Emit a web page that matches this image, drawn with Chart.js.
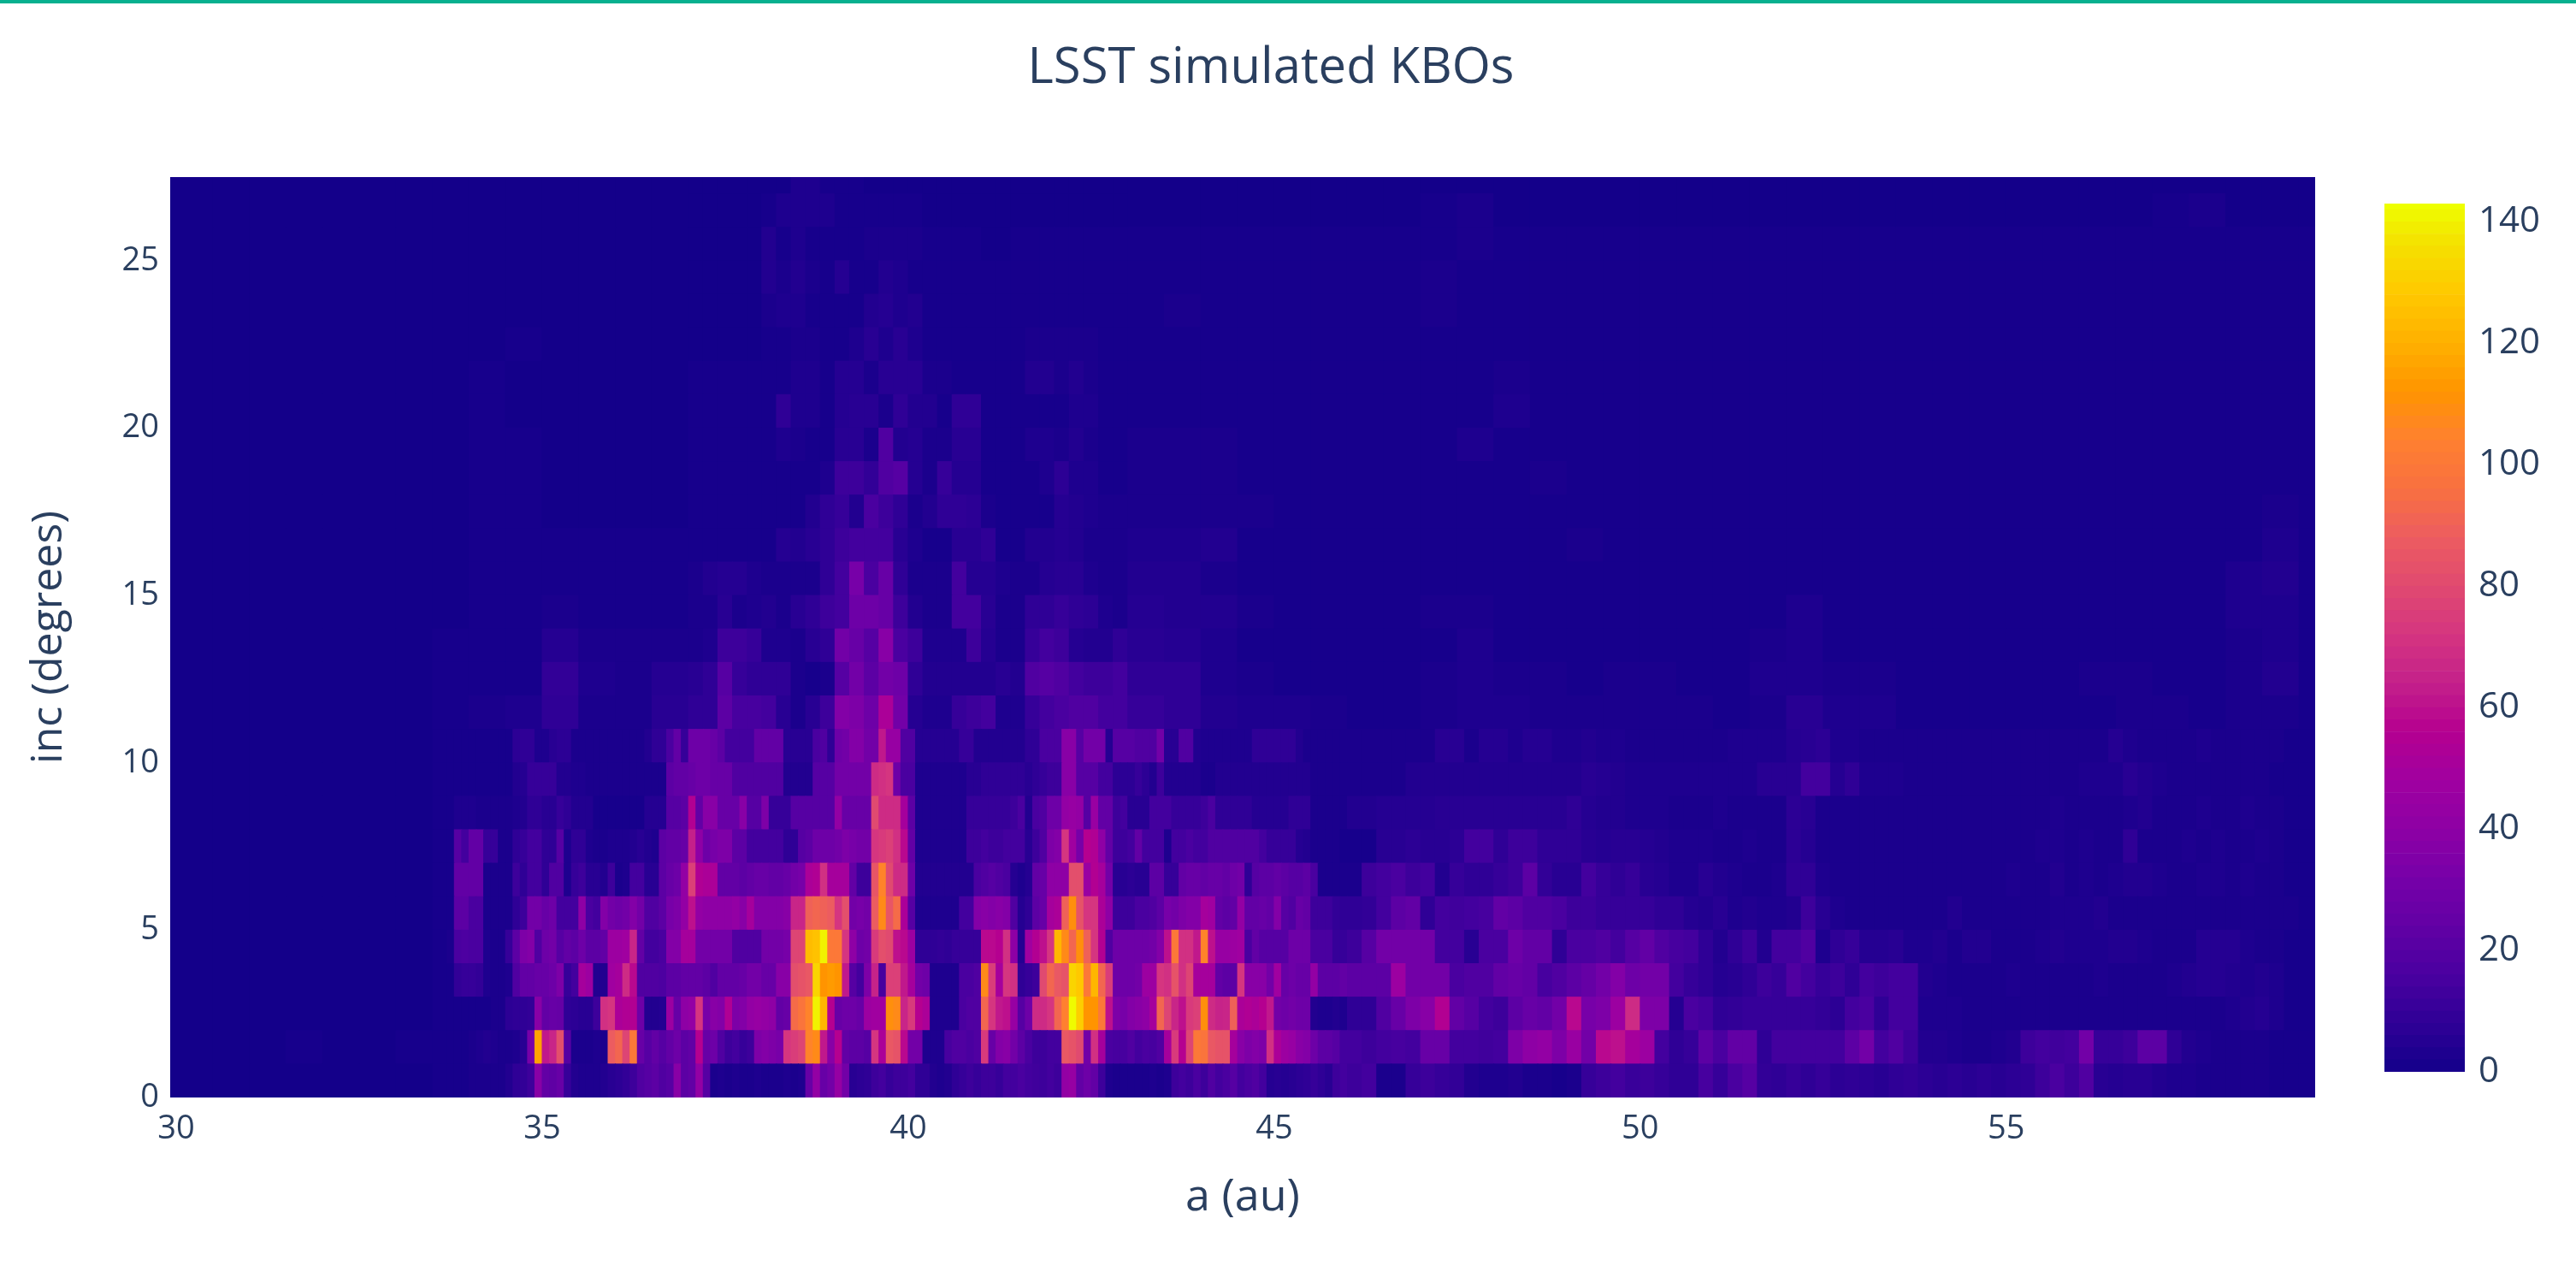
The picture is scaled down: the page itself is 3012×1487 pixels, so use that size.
<!DOCTYPE html>
<html><head><meta charset="utf-8">
<style>
html,body{margin:0;padding:0;background:#fff;width:3012px;height:1487px;overflow:hidden}
#bar{position:absolute;left:0;top:0;width:3012px;height:4px;background:#07b08f}
#main{position:absolute;left:0;top:0}
#cb{position:absolute;left:2788px;top:0}
</style>
<script src="https://cdn.jsdelivr.net/npm/chart.js@4"></script>
</head><body>
<div id="bar"></div>
<canvas id="main" width="2972" height="1487"></canvas>
<canvas id="cb" width="224" height="1487"></canvas>
<script>
const titleText = "LSST simulated KBOs";
const xTitle = "a (au)";
const yTitle = "inc (degrees)";
const xRange = [29.918, 59.22];
const yRange = [0, 27.5];
const zRange = [0, 143];
const inkColor = "#2a3f5f";
const colorStops = [[0,20,0,138],[8,47,0,150],[16,74,0,160],[24,98,0,165],[32,119,0,168],[40,142,0,165],[48,160,0,160],[56,181,0,144],[64,196,32,138],[72,213,53,128],[80,224,74,112],[88,236,92,96],[96,248,112,64],[104,255,128,48],[112,255,148,0],[120,255,176,0],[128,255,200,0],[136,245,224,0],[143,238,255,0]];

/* bin edges in au: rows 0-10 use the fine set, rows 11-27 the coarse set */
const fineStarts = [29.9,30.5,31,31.5,32,32.5,33,33.5,33.6,33.7,33.8,33.9,
34,34.1,34.2,34.3,34.4,34.5,34.6,34.7,34.8,34.9,35,35.1,35.2,35.3,35.4,35.5,35.6,35.7,35.8,35.9,
36,36.1,36.2,36.3,36.4,36.5,36.6,36.7,36.8,36.9,37,37.1,37.2,37.3,37.4,37.5,37.6,37.7,37.8,37.9,
38,38.1,38.2,38.3,38.4,38.5,38.6,38.7,38.8,38.9,39,39.1,39.2,39.3,39.4,39.5,39.6,39.7,39.8,39.9,
40,40.1,40.2,40.3,40.4,40.5,40.6,40.7,40.8,40.9,41,41.1,41.2,41.3,41.4,41.5,41.6,41.7,41.8,41.9,
42,42.1,42.2,42.3,42.4,42.5,42.6,42.7,42.8,42.9,43,43.1,43.2,43.3,43.4,43.5,43.6,43.7,43.8,43.9,
44,44.1,44.2,44.3,44.4,44.5,44.6,44.7,44.8,44.9,45,45.1,45.2,45.3,45.4,45.5,45.6,45.7,45.8,45.9,
46,46.2,46.4,46.6,46.8,47,47.2,47.4,47.6,47.8,48,48.2,48.4,48.6,48.8,49,49.2,49.4,49.6,49.8,
50,50.2,50.4,50.6,50.8,51,51.2,51.4,51.6,51.8,52,52.2,52.4,52.6,52.8,53,53.2,53.4,53.6,53.8,
54,54.2,54.4,54.6,54.8,55,55.2,55.4,55.6,55.8,56,56.2,56.4,56.6,56.8,57,57.2,57.4,57.6,57.8,
58,58.2,58.4,58.6,58.8,59,59.2,59.4];
const coarseStarts = [29.9,30.5,31,31.5,32,32.5,33,33.5,34,34.5,35,35.5,36,36.5,
37,37.2,37.4,37.6,37.8,38,38.2,38.4,38.6,38.8,39,39.2,39.4,39.6,39.8,
40,40.2,40.4,40.6,40.8,41,41.2,41.4,41.6,41.8,42,42.2,42.4,42.6,42.8,
43,43.5,44,44.5,45,45.5,46,46.5,47,47.5,48,48.5,49,49.5,50,50.5,51,51.5,52,52.5,53,53.5,54,54.5,55,55.5,56,56.5,57,57.5,58,58.5,59,59.5];

const inc00 = [0,0,0,0,0,0,0, 1,1,1,1,1,
2,2,2,2,2,4,8,9,12,38, 24,23,26,10,4,3,3,3,4,6, 7,9,12,18,20,22,18,20,38,22, 24,42,20,2,3,2,3,2,2,3, 2,2,2,3,2,3,26,42,26,30, 43,30,6,7,8,12,14,10,12,12,
14,8,8,4,3,4,8,10,12,10, 12,12,10,14,14,16,14,13,12,14, 12,42,44,24,28,24,12,3,2,2, 2,2,2,3,2,3,12,14,12,16, 12,18,14,16,20,14,16,18,14,5, 6,5,6,7,8,10,8,6,12,14,
12,14,2,2,10, 12,10,9,4,3, 3,4,2,2,1, 2,10,12,14,11, 12,10,8,8,15, 10,16,20,9,8, 10,8,10,7,8, 7,6,8,9,7, 6,7,6,7,6, 7,8,12,16,12, 18,6,5,6,6, 4,3,3,2,2, 2,2,2,1,1, 1,1];
const inc01 = [0,0,0,1,0,0,1, 1,1,1,1,1,
2,3,4,3,2,2,3,6,32,116, 62,66,82,20,2,2,2,3,2,88, 92,78,100,26,20,24,20,24,28,22, 24,56,26,28,18,12,14,10,12,34, 36,34,32,72,75,78,105,108,62,38, 56,24,22,22,20,72,52,86,84,58,
30,30,3,3,3,15,18,18,16,18, 74,26,36,38,30,22,16,12,12,14, 14,86,84,80,30,70,50,16,15,15, 18,14,16,15,18,50,74,56,78,100, 98,86,84,84,50,38,34,36,34,70, 52,46,44,38,36,28,22,22,20,14,
14,12,14,15,14, 26,26,14,14,13, 14,34,40,42,34, 45,30,58,60,50, 46,14,8,10,22, 16,24,24,8,14, 14,14,14,14,22, 30,14,18,12,4, 4,3,2,2,3, 4,12,14,13,14, 30,10,10,12,22, 22,8,4,3,2, 2,2,2,1,1, 1,1];
const inc02 = [0,0,0,0,0,0,0, 1,1,1,1,1,
1,1,1,2,2,7,8,8,9,38, 24,26,25,8,7,6,6,12,70,72, 52,54,55,28,4,4,5,46,26,40, 42,72,32,38,36,54,34,36,42,44, 42,40,24,26,94,98,105,140,122,56, 26,28,28,26,46,48,48,110,108,66,
74,56,52,3,3,3,3,16,18,18, 92,72,62,60,44,20,28,68,68,72, 92,104,142,130,112,112,100,60,34,32, 36,38,40,50,92,78,66,60,74,76, 110,68,65,66,90,52,54,52,56,62, 30,28,30,28,28,4,3,3,4,3,
8,8,18,26,34, 38,55,24,20,14, 12,22,26,24,30, 58,32,34,46,68, 34,34,5,16,14, 8,9,10,10,10, 10,10,9,7,14, 16,8,14,14,3, 3,3,2,2,2, 2,2,2,2,2, 2,2,2,2,2, 2,2,2,2,2, 3,4,5,3,1, 1,1];
const inc03 = [0,0,0,0,0,0,0, 1,1,1,9,10,
10,9,3,2,2,3,18,24,24,26, 26,28,34,10,14,50,46,4,4,48, 50,68,58,18,18,18,17,22,22,24, 24,24,22,18,24,24,24,26,30,30, 26,26,38,38,82,84,86,132,112,114, 112,62,20,14,34,65,15,76,76,62,
50,30,28,3,3,3,3,16,16,18, 108,75,50,72,70,8,10,12,80,92, 86,84,132,128,100,122,92,75,28,28, 28,30,46,46,72,70,84,70,78,50, 50,50,24,22,22,72,38,38,38,30, 48,26,28,26,26,42,22,22,22,24,
22,22,22,46,30, 30,30,16,18,18, 24,26,24,15,18, 22,25,30,36,28, 30,30,14,10,8, 5,6,8,12,10, 18,14,10,12,8, 14,12,14,14,4, 3,2,2,2,2, 3,2,2,2,2, 2,3,2,2,2, 2,3,4,5,5, 4,3,4,3,1, 1,1];
const inc04 = [0,0,0,0,0,0,0, 1,1,2,16,17,
16,16,3,2,2,10,22,34,36,18, 28,30,20,24,22,28,22,22,24,46, 46,48,66,24,14,14,16,36,36,50, 50,30,30,30,30,30,18,18,18,18, 30,30,30,32,78,78,124,126,140,100, 100,72,40,28,30,74,82,80,60,58,
46,8,8,8,9,8,10,10,10,10, 58,58,56,70,40,5,48,55,60,72, 122,108,92,110,90,72,55,18,28,28, 28,28,28,30,36,60,100,70,70,62, 105,60,44,44,46,48,16,24,20,20, 20,20,28,28,28,16,16,16,10,10,
12,20,30,30,30, 30,14,14,6,16, 16,28,24,24,8, 16,16,18,14,20, 24,18,15,14,8, 4,8,12,4,14, 14,18,3,8,10, 5,5,6,3,3, 4,2,4,4,2, 2,2,3,4,3, 3,3,4,4,3, 2,2,2,5,5, 5,3,2,2,1, 1,1];
const inc05 = [0,0,0,0,0,0,0, 1,1,1,22,22,
16,16,2,2,2,2,8,12,30,30, 26,28,14,14,14,40,16,14,36,30, 28,30,36,30,18,18,22,32,34,42, 60,42,40,40,40,40,42,38,50,36, 36,36,36,38,66,66,90,92,90,88, 72,82,30,32,30,88,108,85,94,52,
20,3,3,3,3,3,3,14,14,36, 38,36,38,36,18,5,8,22,26,50, 52,90,110,84,72,72,52,40,12,12, 12,16,16,18,22,32,30,34,36,36, 50,48,24,22,24,42,24,24,26,24, 36,20,18,26,24,12,12,12,9,8,
8,9,14,22,24, 8,14,13,14,15, 24,22,18,18,16, 12,12,10,10,10, 10,8,8,5,4, 6,3,4,3,3, 4,12,6,3,2, 2,2,2,2,2, 2,4,2,2,2, 2,2,2,3,3, 3,4,2,2,2, 2,2,2,2,2, 2,2,2,2,2, 1,1];
const inc06 = [0,0,0,0,0,0,0, 1,1,1,24,24,
24,24,2,2,2,2,12,8,14,14, 8,18,18,3,10,12,6,6,4,12, 2,3,14,14,6,6,22,26,28,42, 76,54,52,52,24,24,24,22,24,26, 26,24,24,26,30,32,52,54,70,50, 50,50,24,12,12,85,105,80,68,68,
28,4,4,4,4,4,4,4,4,16, 18,20,18,16,5,3,5,24,26,40, 40,40,82,82,45,55,50,30,6,6, 7,6,6,22,22,10,10,24,26,26, 24,26,26,24,28,30,8,20,22,22, 24,22,20,20,22,16,2,2,2,2,
2,12,14,16,12, 14,4,10,8,8, 10,12,22,9,6, 6,14,10,8,10, 6,5,3,3,6, 4,3,2,2,3, 8,8,3,2,2, 2,2,2,2,2, 2,2,2,2,2, 3,2,2,4,2, 3,2,3,4,4, 3,2,2,3,3, 2,3,2,2,1, 1,1];
const inc07 = [0,0,0,0,0,0,0, 1,1,1,20,14,
24,24,10,10,2,2,8,10,14,14, 8,8,20,3,8,8,3,2,2,3, 3,3,4,6,4,3,22,24,24,26, 64,40,28,32,34,34,22,22,14,14, 14,14,14,8,8,20,22,28,28,28, 30,34,32,30,30,72,74,76,70,58,
24,3,3,3,3,3,3,3,12,12, 14,12,12,14,14,14,6,12,18,34, 36,72,48,32,56,54,40,24,12,12, 14,24,14,14,14,3,14,14,16,14, 14,18,18,18,18,18,18,18,14,10, 10,10,10,5,4,2,2,2,2,1,
1,1,6,6,7, 6,6,7,14,14, 8,12,12,8,8, 8,6,5,6,6, 5,4,3,3,3, 2,2,3,2,2, 7,5,2,2,2, 2,2,2,2,2, 2,2,2,2,2, 2,2,3,3,2, 3,2,2,8,2, 2,2,3,2,3, 2,2,3,2,1, 1,1];
const inc08 = [0,0,0,0,0,0,0, 1,1,1,3,3,
3,2,2,2,2,2,3,4,8,8, 6,6,10,8,4,4,4,1,1,1, 1,1,1,1,5,5,5,20,20,22, 55,24,38,38,26,26,26,38,20,20, 34,10,10,10,20,20,20,20,20,20, 42,26,26,26,26,80,68,68,68,50,
22,3,3,3,3,3,3,3,10,10, 10,10,10,10,12,16,4,16,18,28, 28,42,44,42,20,45,24,24,12,14, 6,6,6,14,14,14,10,10,10,10, 12,16,8,8,8,8,8,5,5,5, 5,5,8,8,8,2,2,2,2,2,
4,4,5,5,5, 5,6,6,6,6, 6,6,6,6,6, 8,5,4,4,3, 3,3,2,2,2, 3,2,2,2,2, 7,6,2,2,2, 2,2,2,2,2, 2,2,2,2,2, 2,2,2,3,2, 2,2,2,3,4, 2,2,2,3,2, 2,3,2,2,1, 1,1];
const inc09 = [0,0,0,0,0,0,0, 1,1,1,1,1,
1,1,1,1,1,1,4,5,10,10, 10,10,4,4,3,3,2,2,2,2, 2,2,2,2,2,2,2,22,24,24, 26,28,28,26,26,26,18,18,18,18, 18,18,18,4,4,4,4,20,20,20, 30,30,30,30,30,68,70,72,28,16,
16,3,3,3,3,3,3,3,6,6, 8,8,8,8,8,8,6,8,10,12, 12,38,38,20,20,20,14,14,7,7, 7,10,7,4,12,4,4,4,4,4, 2,2,4,4,4,4,4,4,4,4, 4,4,4,4,4,2,2,2,2,2,
2,2,2,2,4, 4,4,4,4,4, 4,4,4,4,4, 4,6,5,4,3, 3,3,3,3,3, 3,3,3,6,6, 6,14,14,5,8, 3,3,3,2,2, 2,2,2,2,2, 2,2,2,2,2, 3,3,3,6,4, 3,2,2,2,2, 2,2,2,1,1, 1,1];
const inc10 = [0,0,0,0,0,0,0, 1,1,1,1,1,
1,1,1,1,1,1,7,8,8,3, 3,6,7,7,2,2,2,2,2,2, 2,2,2,2,4,8,8,16,24,10, 28,28,28,26,22,14,14,14,14,24, 24,24,24,6,6,6,6,16,18,8, 28,30,36,36,30,30,62,44,44,18,
18,5,5,5,5,5,5,10,10,4, 4,4,4,4,4,4,8,8,16,16, 16,38,38,20,30,30,30,5,20,20, 20,18,18,18,30,6,6,18,18,4, 3,3,3,3,3,3,3,8,8,8, 8,8,8,4,2,2,2,2,2,2,
2,2,2,2,2, 2,6,6,2,5, 5,3,5,5,3, 3,4,3,3,2, 2,2,2,2,2, 2,3,3,3,3, 5,6,7,3,3, 2,2,2,2,2, 2,2,2,2,2, 2,2,2,2,2, 2,2,5,3,2, 2,2,2,3,2, 2,2,2,2,1, 1,1];

const inc11 = [0,0,0,0,0,0,0,1,2,3,8,2,2,6, 8,8,22,15,15, 14,6,2,6,12, 36,34,28,52,30, 5,3,3,10,12, 14,3,3,10,14, 16,18,18,14,14,
10,8,4,3,3,2,1,1,2,3,3,2,2,2,2,2,1,2,6,3,3,1,1,1,1,1,1,2,2,1,2,2,1];
const inc12 = [0,0,0,0,0,0,0,1,1,1,9,3,2,5, 6,8,20,10,8, 8,8,2,1,2, 20,30,22,30,28, 8,4,4,4,4, 4,6,4,18,20, 18,14,12,12,14,
8,8,3,2,1,1,1,1,2,3,2,2,1,2,2,1,1,3,3,2,2,1,1,1,1,1,2,2,1,1,2,4,1];
const inc13 = [0,0,0,0,0,0,0,1,1,1,5,2,2,2, 2,3,12,12,10, 3,3,2,6,8, 30,26,20,38,16, 12,3,3,3,12, 5,2,2,10,14, 12,5,4,4,8,
6,5,3,1,1,1,1,1,1,3,1,1,1,1,1,1,1,2,3,1,1,1,1,1,1,1,1,1,1,1,2,3,1];
const inc14 = [0,0,0,0,0,0,0,0,1,1,2,1,1,1, 2,2,6,2,3, 4,2,6,8,12, 14,28,28,26,12, 4,2,2,14,14, 6,2,2,8,8, 10,8,7,3,2,
5,4,4,2,1,1,1,1,2,2,1,1,1,1,1,1,1,1,3,1,1,1,1,1,1,1,1,1,1,1,3,3,1];
const inc15 = [0,0,0,0,0,0,0,0,1,1,1,1,1,1, 2,4,5,5,3, 2,2,2,2,8, 14,32,16,26,8, 2,2,2,14,5, 5,3,2,2,5, 6,6,3,2,2,
4,4,2,1,1,1,1,1,1,1,1,1,1,1,1,1,1,1,1,1,1,1,1,1,1,1,1,1,1,1,3,4,1];
const inc16 = [0,0,0,0,0,0,0,0,1,1,1,1,1,1, 1,1,1,1,1, 1,5,4,6,8, 12,14,14,14,6, 3,1,1,6,6, 8,1,1,4,4, 5,4,2,2,2,
3,3,4,1,1,1,1,1,1,1,1,1,2,1,1,1,1,1,1,1,1,1,1,1,1,1,1,1,1,1,1,3,1];
const inc17 = [0,0,0,0,0,0,0,0,1,1,0,0,0,0, 1,1,1,1,1, 1,1,1,4,8, 10,4,16,12,8, 2,4,8,8,7, 2,1,1,1,1, 5,4,3,2,2,
2,2,2,2,1,1,1,1,1,1,1,1,1,1,1,1,1,1,1,1,1,1,1,1,1,1,1,1,1,1,1,2,1];
const inc18 = [0,0,0,0,0,0,0,0,1,1,0,0,0,0, 1,1,1,1,1, 1,1,1,1,3, 12,12,9,18,20, 5,2,10,5,5, 1,1,1,1,3, 7,3,3,1,1,
2,2,2,1,1,1,1,1,1,1,1,2,1,1,1,1,1,1,1,1,1,1,1,1,1,1,1,1,1,1,1,1,1];
const inc19 = [0,0,0,0,0,0,0,0,1,1,0,0,0,0, 1,1,1,1,1, 1,3,2,1,1, 6,6,2,18,4, 5,2,2,6,6, 1,1,1,3,3, 2,4,2,1,1,
2,2,2,1,1,1,1,1,1,3,1,1,1,1,1,1,1,1,1,1,1,1,1,1,1,1,1,1,1,1,1,1,1];
const inc20 = [0,0,0,0,0,0,0,0,1,0,0,0,0,0, 1,1,1,1,1, 1,8,3,3,1, 5,6,6,2,8, 4,4,1,8,8, 1,1,1,1,1, 1,3,3,1,1,
1,1,1,1,1,1,1,1,1,1,3,1,1,1,1,1,1,1,1,1,1,1,1,1,1,1,1,1,1,1,1,1,1];
const inc21 = [0,0,0,0,0,0,0,0,1,0,0,0,0,0, 1,1,1,1,1, 1,1,3,3,1, 5,5,2,6,6, 6,2,2,1,1, 1,1,1,4,4, 2,4,2,1,1,
1,1,1,1,1,1,1,1,1,1,2,1,1,1,1,1,1,1,1,1,1,1,1,1,1,1,1,1,1,1,1,1,1];
const inc22 = [0,0,0,0,0,0,0,0,0,1,0,0,0,0, 0,0,0,0,0, 1,1,2,2,1, 1,3,6,3,6, 3,1,1,1,1, 1,1,1,2,2, 2,2,2,1,1,
1,1,1,1,1,1,1,1,1,1,1,1,1,1,1,1,1,1,1,1,1,1,1,1,1,1,1,1,1,1,1,1,1];
const inc23 = [0,0,0,0,0,0,0,0,0,0,0,0,0,0, 0,0,0,0,0, 2,3,3,1,1, 1,1,4,5,3, 4,1,1,1,1, 1,1,1,1,1, 1,1,1,1,1,
1,2,1,1,1,1,1,1,2,1,1,1,1,1,1,1,1,1,1,1,1,1,1,1,1,1,1,1,1,1,1,1,1];
const inc24 = [0,0,0,0,0,0,0,0,0,0,0,0,0,0, 0,0,0,0,0, 4,2,4,2,1, 5,1,1,4,3, 1,1,1,1,1, 1,1,1,1,1, 1,1,1,1,1,
1,1,1,1,1,1,1,1,2,1,1,1,1,1,1,1,1,1,1,1,1,1,1,1,1,1,1,1,1,1,1,1,1];
const inc25 = [0,0,0,0,0,0,0,0,0,0,0,0,0,0, 0,0,0,0,0, 4,1,3,1,1, 1,1,2,2,2, 2,1,1,1,1, 0,0,1,1,1, 1,1,1,1,1,
1,1,1,1,1,1,1,1,1,2,1,1,1,1,1,1,1,1,1,1,1,1,1,1,1,1,1,1,1,1,1,1,1];
const inc26 = [0,0,0,0,0,0,0,0,0,0,0,0,0,0, 0,0,0,0,0, 1,3,3,3,3, 1,1,1,1,1, 1,0,0,0,0, 0,0,0,0,0, 0,0,0,0,0,
0,0,0,0,0,0,0,0,1,2,0,0,0,0,0,0,0,0,0,0,0,0,0,0,0,0,0,0,1,2,0,0,0];
const inc27 = [0,0,0,0,0,0,0,0,0,0,0,0,0,0, 0,0,0,0,0, 0,0,3,3,1, 1,1,0,0,0, 0,0,0,0,0, 0,0,0,0,0, 0,0,0,0,0,
0,0,0,0,0,0,0,0,0,0,0,0,0,0,0,0,0,0,0,0,0,0,0,0,0,0,0,0,0,0,0,0,0];

const fineRows = [inc00,inc01,inc02,inc03,inc04,inc05,inc06,inc07,inc08,inc09,inc10];
const coarseRows = [inc11,inc12,inc13,inc14,inc15,inc16,inc17,inc18,inc19,inc20,inc21,inc22,inc23,inc24,inc25,inc26,inc27];

function zColor(v){
  v = Math.max(zRange[0], Math.min(zRange[1], v));
  for (let i=1;i<colorStops.length;i++){
    const a=colorStops[i-1], b=colorStops[i];
    if (v<=b[0]){
      const t=(v-a[0])/(b[0]-a[0]);
      return `rgb(${Math.round(a[1]+(b[1]-a[1])*t)},${Math.round(a[2]+(b[2]-a[2])*t)},${Math.round(a[3]+(b[3]-a[3])*t)})`;
    }
  }
  return "rgb(238,255,0)";
}
function rowDataset(values, starts, rowIndex){
  const data=[];
  for (let i=0;i<starts.length-1;i++){
    data.push({x:[starts[i],starts[i+1]], y:rowIndex+0.5, z:values[i]===undefined?0:values[i]});
  }
  return {label:"inc "+rowIndex, data, borderWidth:0, inflateAmount:0.5, grouped:false, barPercentage:1, categoryPercentage:1,
          backgroundColor:c=>zColor(c.raw?c.raw.z:0)};
}
const datasets=[];
fineRows.forEach((r,i)=>datasets.push(rowDataset(r,fineStarts,i)));
coarseRows.forEach((r,i)=>datasets.push(rowDataset(r,coarseStarts,i+fineRows.length)));

const fontFamily='"Open Sans", sans-serif';
const tickFont={family:fontFamily,size:38};
const baseFill={id:'baseFill',beforeDatasetsDraw(chart){
  const a=chart.chartArea,c=chart.ctx;
  c.save();c.fillStyle=zColor(0);c.fillRect(a.left,a.top,a.right-a.left,a.bottom-a.top);c.restore();
}};
Chart.defaults.animation=false;
new Chart(document.getElementById('main'),{
  type:'bar',
  data:{datasets},
  plugins:[baseFill],
  options:{
    indexAxis:'y',responsive:false,animation:false,
    layout:{autoPadding:false,padding:0},
    plugins:{
      legend:{display:false},tooltip:{enabled:false},
      title:{display:true,text:titleText,color:inkColor,font:{family:fontFamily,size:58,weight:'normal'},padding:{top:46,bottom:91.4}}
    },
    scales:{
      x:{type:'linear',position:'bottom',min:xRange[0],max:xRange[1],
        grid:{display:false},border:{display:false},
        ticks:{stepSize:5,includeBounds:false,autoSkip:false,maxRotation:0,color:inkColor,font:tickFont,padding:6,callback:v=>String(v)},
        title:{display:true,text:xTitle,color:inkColor,font:{family:fontFamily,size:52},padding:{top:0,bottom:56}},
        afterFit(s){s.height=204;}
      },
      y:{type:'linear',position:'left',min:yRange[0],max:yRange[1],offset:false,
        grid:{display:false},border:{display:false},
        ticks:{stepSize:5,includeBounds:false,autoSkip:false,color:inkColor,font:tickFont,padding:5,callback:v=>String(v)},
        title:{display:true,text:yTitle,color:inkColor,font:{family:fontFamily,size:50},padding:{top:28,bottom:0}},
        afterFit(s){s.width=199;}
      },
      spacer:{type:'linear',position:'right',display:true,grid:{display:false},border:{display:false},ticks:{display:false},
        afterFit(s){s.width=265;}
      }
    }
  }
});

/* colour bar */
const zLevels=[];
for (let v=zRange[0];v<zRange[1];v+=2) zLevels.push(v);
new Chart(document.getElementById('cb'),{
  type:'bar',
  data:{labels:['z'],datasets:zLevels.map(v=>({data:[[v,v+2]],backgroundColor:zColor(v+1),borderWidth:0,grouped:false,barPercentage:1,categoryPercentage:1}))},
  options:{
    responsive:false,animation:false,
    layout:{autoPadding:false,padding:{top:238,bottom:234,left:0,right:0}},
    plugins:{legend:{display:false},tooltip:{enabled:false}},
    scales:{
      x:{display:false,offset:true},
      y:{type:'linear',position:'right',min:zRange[0],max:zRange[1],grid:{display:false},border:{display:false},
        ticks:{stepSize:20,includeBounds:false,color:inkColor,font:{family:fontFamily,size:42},padding:8,callback:v=>String(v)},
        afterFit(s){s.width=130;}
      }
    }
  }
});
</script>
</body></html>
